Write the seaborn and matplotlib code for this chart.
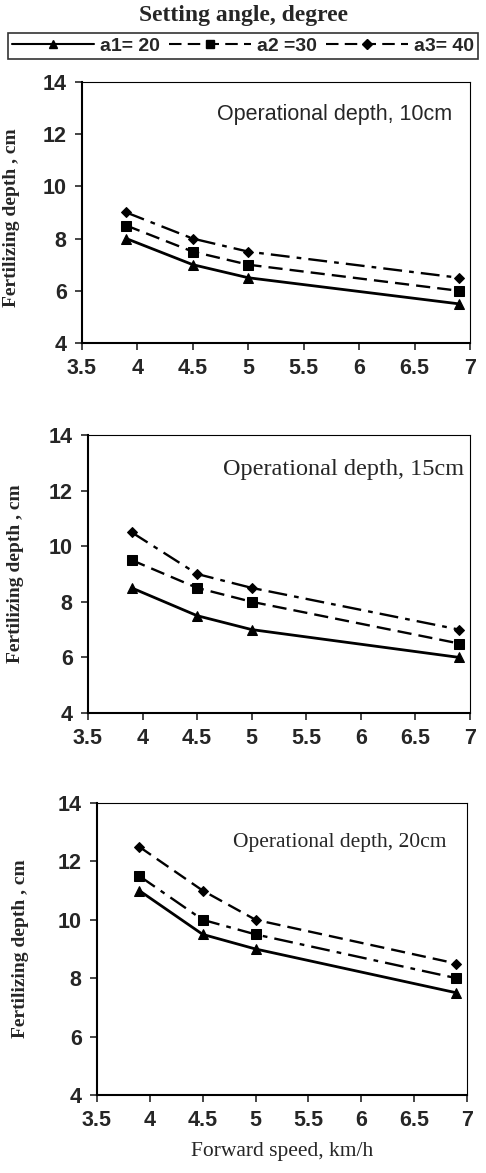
import pandas as pd
import matplotlib.pyplot as plt
import seaborn as sns
from matplotlib.lines import Line2D

# forward speed, km/h
speed = [3.9, 4.5, 5.0, 6.9]

# fertilizing depth, cm  (one list per setting angle, per operational depth)
d10_a1 = [8.0, 7.0, 6.5, 5.5]
d10_a2 = [8.5, 7.5, 7.0, 6.0]
d10_a3 = [9.0, 8.0, 7.5, 6.5]

d15_a1 = [8.5, 7.5, 7.0, 6.0]
d15_a2 = [9.5, 8.5, 8.0, 6.5]
d15_a3 = [10.5, 9.0, 8.5, 7.0]

d20_a1 = [11.0, 9.5, 9.0, 7.5]
d20_a2 = [11.5, 10.0, 9.5, 8.0]
d20_a3 = [12.5, 11.0, 10.0, 8.5]

panel_titles = ['Operational depth, 10cm', 'Operational depth, 15cm', 'Operational depth, 20cm']
series_labels = ['a1= 20', 'a2 =30', 'a3= 40']

sns.set_style('ticks')
plt.rcParams['font.family'] = ['Liberation Sans', 'DejaVu Sans']

fig = plt.figure(figsize=(4.86, 11.73), dpi=100)
W, H = 486, 1173
boxes = [(82, 82, 470, 343), (88, 435, 470, 713), (97, 803, 467, 1095)]
ylab_x = [-0.16, -0.167, -0.184]

data = [(d10_a1, d10_a2, d10_a3), (d15_a1, d15_a2, d15_a3), (d20_a1, d20_a2, d20_a3)]
dash = (0, (6, 3))
dashdot = (0, (8, 3, 2, 3))
# panel 3 swaps the dashed / dash-dot styles, as in the original figure
styles = [
    [('-', '^'), (dash, 's'), (dashdot, 'D')],
    [('-', '^'), (dash, 's'), (dashdot, 'D')],
    [('-', '^'), (dashdot, 's'), (dash, 'D')],
]

for i, (l, t, r, b) in enumerate(boxes):
    ax = fig.add_axes([l / W, 1 - b / H, (r - l) / W, (b - t) / H])
    for j, ys in enumerate(data[i]):
        df = pd.DataFrame({'speed': speed, 'depth': ys})
        ls, mk = styles[i][j]
        sns.lineplot(data=df, x='speed', y='depth', ax=ax, color='black',
                     linestyle=ls, marker=mk, markersize=7 if mk != 'D' else 5.5,
                     linewidth=2.0 if j == 0 else 1.7, markeredgecolor='black')
    ax.set_xlim(3.5, 7)
    ax.set_ylim(4, 14)
    ax.set_xticks([3.5, 4, 4.5, 5, 5.5, 6, 6.5, 7])
    ax.set_xticklabels(['3.5', '4', '4.5', '5', '5.5', '6', '6.5', '7'])
    ax.set_yticks([4, 6, 8, 10, 12, 14])
    ax.tick_params(axis='both', labelsize=15.5, width=1.2, length=5, direction='out', pad=6)
    for lab in ax.get_xticklabels() + ax.get_yticklabels():
        lab.set_fontweight('bold')
    for sp in ax.spines.values():
        sp.set_linewidth(0.8)
        sp.set_color('black')
    ax.spines['left'].set_linewidth(1.5)
    ax.spines['bottom'].set_linewidth(1.5)
    ax.set_xlabel('')
    ax.set_ylabel('Fertilizing depth , cm', family='Liberation Serif', fontweight='bold', fontsize=14)
    ax.yaxis.set_label_coords(ylab_x[i], 0.48 if i == 0 else 0.5)
    if i == 0:
        ax.text(0.955, 0.875, panel_titles[i], transform=ax.transAxes, ha='right', va='center',
                fontsize=15.5, family='Liberation Sans')
    elif i == 1:
        ax.text(0.985, 0.875, panel_titles[i], transform=ax.transAxes, ha='right', va='center',
                fontsize=17.5, family='Liberation Serif')
    else:
        ax.text(0.945, 0.865, panel_titles[i], transform=ax.transAxes, ha='right', va='center',
                fontsize=15.5, family='Liberation Serif')
    if i == 2:
        ax.set_xlabel('Forward speed, km/h', family='Liberation Serif', fontsize=15.5, labelpad=8)

fig.text(0.5, 1 - 15 / H, 'Setting angle, degree', ha='center', va='center',
         family='Liberation Serif', fontweight='bold', fontsize=17)

handles = [
    Line2D([], [], color='black', linestyle='-', marker='^', markersize=6, linewidth=1.5),
    Line2D([], [], color='black', linestyle=dash, marker='s', markersize=6, linewidth=1.5),
    Line2D([], [], color='black', linestyle=dash, marker='D', markersize=5, linewidth=1.5),
]
leg = fig.legend(handles, series_labels, loc='center', bbox_to_anchor=(0.5, 1 - 46 / H), ncol=3,
                 frameon=True, fancybox=False, edgecolor='black', handlelength=4.2, columnspacing=0.5,
                 handletextpad=0.3, borderpad=0.2, borderaxespad=0,
                 prop={'weight': 'bold', 'size': 14})
leg.get_frame().set_linewidth(1.2)

fig.savefig('out.png', dpi=100)
